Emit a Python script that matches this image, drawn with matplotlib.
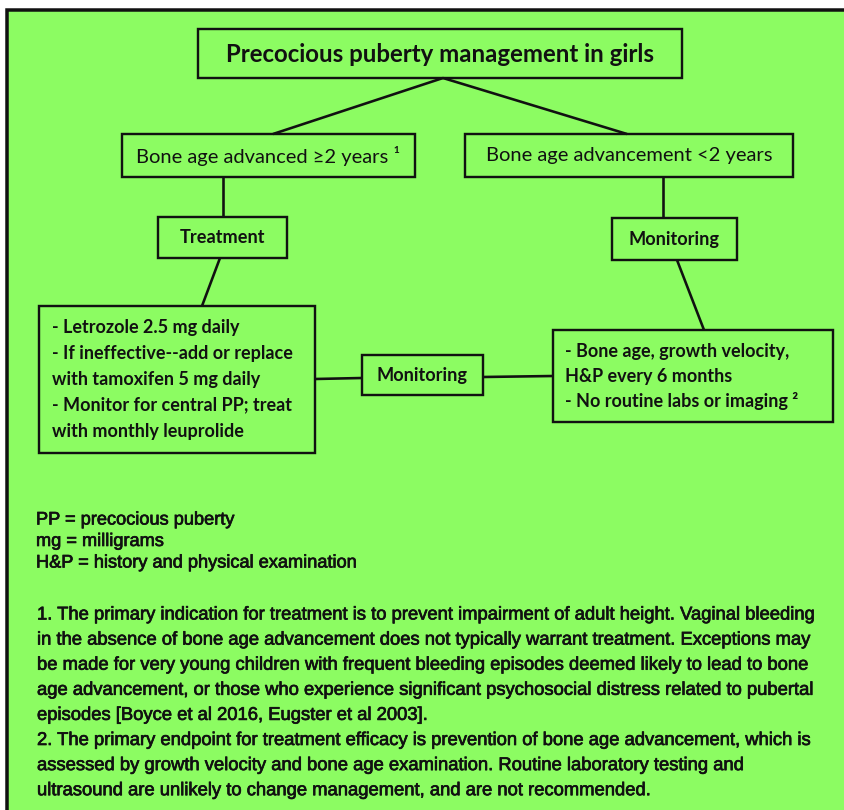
"""Flowchart: precocious puberty management in girls."""

import matplotlib.pyplot as plt
from matplotlib import patheffects
from matplotlib.patches import Rectangle

OUTPUT_PATH = "out.png"
WIDTH_PX = 845
HEIGHT_PX = 810
DPI = 100

BG_GREEN = "#8cfc62"
INK = "#111111"
BOX_FONT = ["Lato", "DejaVu Sans"]
NOTE_FONT = ["Liberation Sans Narrow", "Liberation Sans", "DejaVu Sans"]

# texts
TITLE = "Precocious puberty management in girls"
BRANCH_LABELS = ["Bone age advanced ≥2 years ¹", "Bone age advancement <2 years"]
ACTION_LABELS = ["Treatment", "Monitoring"]
LINK_LABEL = "Monitoring"
TREATMENT_LINES = [
    "- Letrozole 2.5 mg daily",
    "- If ineffective--add or replace",
    "with tamoxifen 5 mg daily",
    "- Monitor for central PP; treat",
    "with monthly leuprolide",
]
MONITORING_LINES = [
    "- Bone age, growth velocity,",
    "H&P every 6 months",
    "- No routine labs or imaging ²",
]
ABBREVIATIONS = [
    "PP = precocious puberty",
    "mg = milligrams",
    "H&P = history and physical examination",
]
FOOTNOTES = [
    "1. The primary indication for treatment is to prevent impairment of adult height. Vaginal bleeding",
    "in the absence of bone age advancement does not typically warrant treatment. Exceptions may",
    "be made for very young children with frequent bleeding episodes deemed likely to lead to bone",
    "age advancement, or those who experience significant psychosocial distress related to pubertal",
    "episodes [Boyce et al 2016, Eugster et al 2003].",
    "2. The primary endpoint for treatment efficacy is prevention of bone age advancement, which is",
    "assessed by growth velocity and bone age examination. Routine laboratory testing and",
    "ultrasound are unlikely to change management, and are not recommended.",
]

# layout in pixels (x0, y0, x1, y1), y grows downwards
TITLE_BOX = (198, 29, 682, 78)
BRANCH_BOXES = [(122, 134, 415, 177), (465, 134, 793, 177)]
ACTION_BOXES = [(158, 217, 287, 258), (612, 218, 737, 260)]
DETAIL_BOXES = [(39, 306, 315, 453), (553, 330, 833, 422)]
LINK_BOX = (362, 355, 483, 395)


def px(value: float) -> float:
    """Pixel width to points."""
    return value * 72.0 / DPI


def draw_box(ax, box, lw=2.4):
    x0, y0, x1, y1 = box
    ax.add_patch(
        Rectangle((x0, y0), x1 - x0, y1 - y0, facecolor="none",
                  edgecolor=INK, linewidth=px(lw), zorder=3)
    )


def link(ax, p0, p1, lw=2.6):
    ax.plot([p0[0], p1[0]], [p0[1], p1[1]], color=INK,
            linewidth=px(lw), solid_capstyle="butt", zorder=2)


def centre(box):
    x0, y0, x1, y1 = box
    return (x0 + x1) / 2.0, (y0 + y1) / 2.0


def main() -> None:
    fig = plt.figure(figsize=(WIDTH_PX / DPI, HEIGHT_PX / DPI), dpi=DPI)
    fig.patch.set_facecolor("white")
    ax = fig.add_axes([0, 0, 1, 1])
    ax.set_xlim(0, WIDTH_PX)
    ax.set_ylim(HEIGHT_PX, 0)
    ax.axis("off")

    # green panel with heavy frame, cut off at right and bottom
    ax.add_patch(
        Rectangle((7, 10), WIDTH_PX + 20, HEIGHT_PX + 20, facecolor=BG_GREEN,
                  edgecolor=INK, linewidth=px(3.5), zorder=0)
    )

    # connectors
    apex = (443, TITLE_BOX[3])
    link(ax, apex, (273, BRANCH_BOXES[0][1]))
    link(ax, apex, (627, BRANCH_BOXES[1][1]))
    link(ax, (223, BRANCH_BOXES[0][3]), (223, ACTION_BOXES[0][1]))
    link(ax, (663, BRANCH_BOXES[1][3]), (663, ACTION_BOXES[1][1]))
    link(ax, (220, ACTION_BOXES[0][3]), (202, DETAIL_BOXES[0][1]))
    link(ax, (677, ACTION_BOXES[1][3]), (704, DETAIL_BOXES[1][1]))
    link(ax, (DETAIL_BOXES[0][2], 379), (LINK_BOX[0], 378))
    link(ax, (LINK_BOX[2], 377), (DETAIL_BOXES[1][0], 376))

    # boxes
    for box in [TITLE_BOX, *BRANCH_BOXES, *ACTION_BOXES, *DETAIL_BOXES, LINK_BOX]:
        draw_box(ax, box)

    cx, cy = centre(TITLE_BOX)
    ax.text(cx, cy + 1, TITLE, family=BOX_FONT, fontsize=17.3, fontweight="bold",
            ha="center", va="center", color=INK, zorder=4)
    for box, label in zip(BRANCH_BOXES, BRANCH_LABELS):
        cx, cy = centre(box)
        ax.text(cx, cy, label, family=BOX_FONT, fontsize=14.5, ha="center",
                va="center", color=INK, zorder=4)
    for box, label in zip(ACTION_BOXES, ACTION_LABELS):
        cx, cy = centre(box)
        ax.text(cx, cy, label, family=BOX_FONT, fontsize=13.1, fontweight="bold",
                ha="center", va="center", color=INK, zorder=4)
    cx, cy = centre(LINK_BOX)
    ax.text(cx, cy + 1, LINK_LABEL, family=BOX_FONT, fontsize=13.1,
            fontweight="bold", ha="center", va="center", color=INK, zorder=4)

    for i, line in enumerate(TREATMENT_LINES):
        ax.text(52, 327 + 26 * i, line, family=BOX_FONT, fontsize=13,
                fontweight="bold", ha="left", va="center", color=INK, zorder=4)
    for i, line in enumerate(MONITORING_LINES):
        ax.text(565, 352 + 24.5 * i, line, family=BOX_FONT, fontsize=13,
                fontweight="bold", ha="left", va="center", color=INK, zorder=4)

    thicken = [patheffects.withStroke(linewidth=0.5, foreground=INK)]
    for i, line in enumerate(ABBREVIATIONS):
        ax.text(36, 520 + 21.5 * i, line, family=NOTE_FONT, fontsize=13.1,
                ha="left", va="center", color=INK, zorder=4, path_effects=thicken)
    for i, line in enumerate(FOOTNOTES):
        ax.text(37, 615 + 25.1 * i, line, family=NOTE_FONT, fontsize=13.25,
                ha="left", va="center", color=INK, zorder=4, path_effects=thicken)

    fig.savefig(OUTPUT_PATH, dpi=DPI, facecolor=fig.get_facecolor())
    plt.close(fig)


if __name__ == "__main__":
    main()
